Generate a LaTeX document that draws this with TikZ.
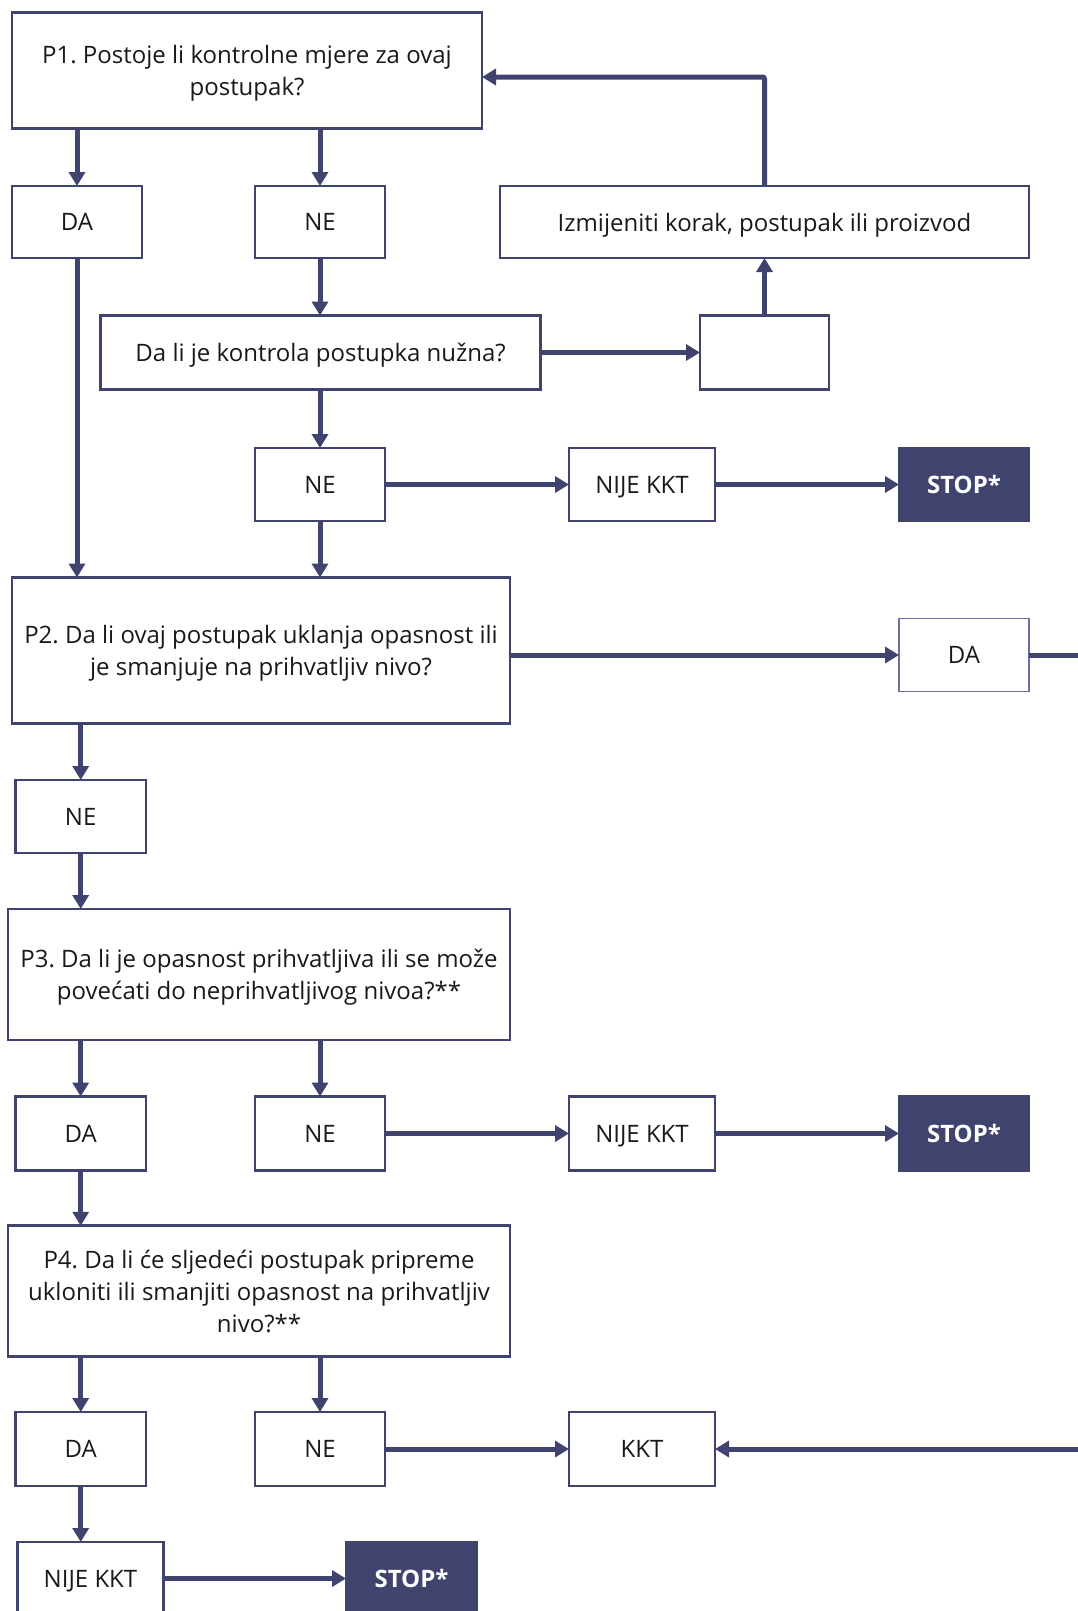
\documentclass[tikz,border=0pt]{standalone}
\usepackage{fontspec}
\setmainfont{Open Sans}
\usetikzlibrary{arrows.meta}
\definecolor{navy}{HTML}{40436E}
\definecolor{lightnavy}{HTML}{6E6E9C}
\frenchspacing
\begin{document}
\begin{tikzpicture}[x=1pt,y=-1pt,
  box/.style={draw=navy, line width=2.6pt, fill=white, inner sep=0pt, outer sep=0pt,
    font=\fontsize{24}{32}\selectfont, align=center, text=black!90, text depth=0pt},
  stopbox/.style={box, fill=navy, text=white, font=\fontsize{24}{32}\selectfont\bfseries},
  arr/.style={draw=navy, line width=5pt, -{Triangle[width=16pt,length=14pt]}},
  ln/.style={draw=navy, line width=5pt}
]
\useasboundingbox (0,0) rectangle (1078,1611);
\clip (0,0) rectangle (1078,1611);

% boxes
\node[box, minimum width=470pt, minimum height=116pt] (p1) at (247,70.3)
  {P1. Postoje li kontrolne mjere za ovaj\\postupak?};
\node[box, minimum width=130pt, minimum height=72pt] (da1) at (77,222) {DA};
\node[box, minimum width=130pt, minimum height=72pt] (ne1) at (320,222) {NE};
\node[box, minimum width=529pt, minimum height=72pt] (izm) at (764.5,222)
  {Izmijeniti korak, postupak ili proizvod};
\node[box, minimum width=440pt, minimum height=74pt] (dali) at (320.6,352.5)
  {Da li je kontrola postupka nužna?};
\node[box, minimum width=129pt, minimum height=74pt] (empty) at (764.5,352.5) {};
\node[box, minimum width=130pt, minimum height=73pt] (ne2) at (320,484.5) {NE};
\node[box, minimum width=146pt, minimum height=73pt] (nk1) at (642,484.5) {NIJE KKT};
\node[stopbox, minimum width=130pt, minimum height=73pt] (st1) at (964,484.5) {STOP*};

\node[box, minimum width=498pt, minimum height=146pt] (p2) at (261,650.5)
  {P2. Da li ovaj postupak uklanja opasnost ili\\je smanjuje na prihvatljiv nivo?};
\node[box, draw=lightnavy, line width=1.8pt, minimum width=130pt, minimum height=73pt] (da2) at (964,655) {DA};
\node[box, minimum width=130.6pt, minimum height=73pt] (ne3) at (80.7,816.5) {NE};

\node[box, minimum width=502pt, minimum height=131pt] (p3) at (259,974.5)
  {P3. Da li je opasnost prihvatljiva ili se može\\povećati do neprihvatljivog nivoa?**};
\node[box, minimum width=130.6pt, minimum height=74pt] (da3) at (80.7,1133.5) {DA};
\node[box, minimum width=130pt, minimum height=74pt] (ne4) at (320,1133.5) {NE};
\node[box, minimum width=146pt, minimum height=74pt] (nk2) at (642,1133.5) {NIJE KKT};
\node[stopbox, minimum width=130pt, minimum height=74pt] (st2) at (964,1133.5) {STOP*};

\node[box, minimum width=502pt, minimum height=130.5pt] (p4) at (259,1291)
  {P4. Da li će sljedeći postupak pripreme\\ukloniti ili smanjiti opasnost na prihvatljiv\\nivo?**};
\node[box, minimum width=130.6pt, minimum height=74pt] (da4) at (80.7,1449) {DA};
\node[box, minimum width=130pt, minimum height=74pt] (ne5) at (320,1449) {NE};
\node[box, minimum width=146pt, minimum height=74pt] (kkt) at (642,1449) {KKT};
\node[box, minimum width=146pt, minimum height=73pt] (nk3) at (90.5,1578.5) {NIJE KKT};
\node[stopbox, minimum width=131pt, minimum height=73pt] (st3) at (411.5,1578.5) {STOP*};

% helper coordinates
\coordinate (fb) at (764.5,77);
\coordinate (edgeA) at (1090,655);
\coordinate (edgeB) at (1090,1449);

% connectors
\draw[arr] (p1.south -| da1) -- (da1.north);
\draw[arr] (p1.south -| ne1) -- (ne1.north);
\draw[arr] (ne1.south) -- (dali.north -| ne1);
\draw[arr] (da1.south) -- (p2.north -| da1);
\draw[arr] (dali.east) -- (empty.west);
\draw[arr] (empty.north) -- (izm.south);
\draw[arr, rounded corners=2pt] (izm.north) -- (fb) -- (fb -| p1.east);
\draw[arr] (dali.south -| ne2) -- (ne2.north);
\draw[arr] (ne2.south) -- (p2.north -| ne2);
\draw[arr] (ne2.east) -- (nk1.west);
\draw[arr] (nk1.east) -- (st1.west);

\draw[arr] (p2.east |- da2) -- (da2.west);
\draw[ln] (da2.east) -- (edgeA);
\draw[arr] (p2.south -| ne3) -- (ne3.north);
\draw[arr] (ne3.south) -- (p3.north -| ne3);

\draw[arr] (p3.south -| da3) -- (da3.north);
\draw[arr] (p3.south -| ne4) -- (ne4.north);
\draw[arr] (ne4.east) -- (nk2.west);
\draw[arr] (nk2.east) -- (st2.west);
\draw[arr] (da3.south) -- (p4.north -| da3);

\draw[arr] (p4.south -| da4) -- (da4.north);
\draw[arr] (p4.south -| ne5) -- (ne5.north);
\draw[arr] (ne5.east) -- (kkt.west);
\draw[arr] (edgeB) -- (kkt.east);
\draw[arr] (da4.south) -- (nk3.north -| da4);
\draw[arr] (nk3.east |- st3) -- (st3.west);
\end{tikzpicture}
\end{document}
